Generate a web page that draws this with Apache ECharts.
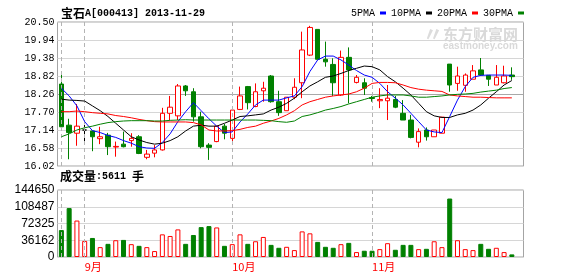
<!DOCTYPE html>
<html><head><meta charset="utf-8">
<script src="https://cdn.jsdelivr.net/npm/echarts@6/dist/echarts.min.js"></script>
<style>html,body{margin:0;padding:0;background:#fff}#c{width:578px;height:276px}</style>
</head><body><div id="c"></div>
<script>
const categories = [
 '2013-08-28','2013-08-29','2013-08-30',
 '2013-09-02','2013-09-03','2013-09-04','2013-09-05','2013-09-06','2013-09-09','2013-09-10','2013-09-11','2013-09-12','2013-09-13',
 '2013-09-16','2013-09-17','2013-09-18','2013-09-23','2013-09-24','2013-09-25','2013-09-26','2013-09-27','2013-09-30',
 '2013-10-08','2013-10-09','2013-10-10','2013-10-11','2013-10-14','2013-10-15','2013-10-16','2013-10-17','2013-10-18',
 '2013-10-21','2013-10-22','2013-10-23','2013-10-24','2013-10-25','2013-10-28','2013-10-29','2013-10-30','2013-10-31',
 '2013-11-01','2013-11-04','2013-11-05','2013-11-06','2013-11-07','2013-11-08','2013-11-11','2013-11-12','2013-11-13','2013-11-14',
 '2013-11-19','2013-11-20','2013-11-21','2013-11-22','2013-11-25','2013-11-26','2013-11-27','2013-11-28','2013-11-29'
];
const opens  = [18.57,17.29,17.04,17.14,17.11,16.87,16.98,16.61,16.70,16.81,16.93,16.29,16.42,16.52,17.66,17.58,18.51,18.33,17.55,16.67,
                16.78,17.26,16.88,17.78,18.49,17.87,18.36,18.82,18.02,17.74,18.16,18.61,19.47,20.27,19.34,19.18,18.23,19.40,18.62,18.61,
                18.15,18.05,18.05,18.09,17.66,17.45,16.76,17.14,16.93,17.04,19.19,18.59,18.53,18.72,19.01,18.84,18.54,18.61,18.85];
const closes = [17.24,17.06,17.26,17.14,16.93,16.93,16.62,16.63,16.62,16.88,16.41,16.39,16.52,17.66,17.85,18.51,18.36,17.55,16.62,16.60,
                17.26,17.04,17.76,18.20,17.99,18.33,18.44,18.02,17.68,18.16,18.47,19.63,20.33,19.34,19.26,18.61,19.40,19.01,18.78,18.44,
                18.12,18.09,18.13,17.85,17.45,16.91,17.09,16.93,17.14,17.54,18.54,18.82,18.85,18.98,18.85,18.72,18.78,18.82,18.80];
const lows   = [17.22,16.23,16.65,16.75,16.48,16.70,16.36,16.31,16.60,16.62,16.39,16.23,16.29,16.50,17.45,17.45,18.20,17.40,16.57,16.21,
                16.76,16.85,16.76,17.76,17.78,17.85,18.02,17.99,17.58,17.74,18.10,18.13,19.44,19.34,19.11,18.20,18.20,17.97,18.59,18.23,
                18.02,17.82,17.45,17.82,17.45,16.88,16.60,16.81,16.93,17.04,18.33,18.36,18.33,18.72,18.82,18.51,18.54,18.59,18.70];
const highs  = [18.90,17.49,17.95,17.30,17.11,17.24,17.05,16.78,17.09,17.04,16.98,16.52,16.67,17.83,18.20,18.57,18.54,18.44,17.71,16.73,
                17.26,17.33,17.85,18.49,18.51,18.59,18.64,18.85,18.36,18.16,18.75,20.20,20.38,20.27,19.89,19.37,19.61,19.71,18.85,18.75,
                18.20,18.44,18.54,18.20,18.07,17.61,17.19,17.22,17.14,17.55,19.19,19.11,18.90,19.16,19.38,18.84,19.16,19.14,19.09];
const volumes = [58100,105600,78700,34700,41100,21300,28400,36200,36900,27700,24100,21300,12800,48900,45400,59600,28400,47500,64500,66700,
                 63800,24100,27700,48900,28400,34000,43300,26200,19900,22000,14900,55300,51100,32600,22000,19900,27700,30500,10600,13500,
                 13500,17000,29800,15600,26200,26200,17000,17700,34000,21300,126200,36200,17000,14900,28400,17700,19900,10600,5611];
const ma5  = [18.44,18.20,17.89,17.40,17.12,17.06,16.97,16.91,16.81,16.73,16.62,16.58,16.57,16.75,17.02,17.40,17.71,17.99,17.74,17.49,
              17.26,17.06,17.08,17.39,17.64,17.92,18.07,18.07,18.07,18.14,18.20,18.49,18.96,19.32,19.44,19.44,19.32,19.16,18.99,18.85,
              18.78,18.59,18.33,18.13,17.92,17.66,17.40,17.14,17.08,17.06,17.56,18.07,18.49,18.78,18.84,18.85,18.85,18.85,18.84];
const ma10 = [18.10,18.07,18.06,18.04,17.89,17.74,17.56,17.35,17.14,16.93,16.83,16.75,16.70,16.73,16.81,16.93,17.11,17.26,17.29,17.26,
              17.26,17.35,17.45,17.56,17.58,17.61,17.64,17.76,17.85,17.97,18.13,18.33,18.51,18.64,18.78,18.82,18.90,18.99,19.06,19.13,
              19.11,19.01,18.80,18.64,18.44,18.23,17.97,17.71,17.58,17.53,17.53,17.61,17.66,17.76,17.92,18.13,18.33,18.54,18.68];
const ma20 = [17.71,17.71,17.73,17.71,17.68,17.66,17.64,17.59,17.56,17.52,17.47,17.43,17.40,17.39,17.39,17.39,17.39,17.37,17.30,17.14,
              17.11,17.11,17.12,17.16,17.22,17.26,17.35,17.42,17.50,17.61,17.74,17.92,18.02,18.09,18.16,18.20,18.23,18.26,18.33,18.44,
              18.59,18.62,18.62,18.61,18.54,18.46,18.41,18.38,18.36,18.34,18.23,18.20,18.18,18.16,18.16,18.15,18.14,18.14,18.14];
const ma30 = [16.93,17.02,17.14,17.21,17.26,17.32,17.37,17.40,17.42,17.43,17.43,17.43,17.42,17.42,17.44,17.45,17.46,17.45,17.45,17.45,
              17.45,17.45,17.45,17.45,17.45,17.45,17.44,17.43,17.40,17.38,17.42,17.56,17.61,17.68,17.76,17.81,17.87,17.95,18.02,18.09,
              18.16,18.20,18.23,18.23,18.23,18.20,18.16,18.16,18.18,18.20,18.23,18.25,18.26,18.28,18.32,18.35,18.38,18.43,18.46];
const maNames = ['5PMA','10PMA','20PMA','30PMA'];
const monthStarts = ['2013-09-02','2013-10-08','2013-11-01'];
const monthNames = ['9月','10月','11月'];
const dividerDates = ['2013-08-28','2013-09-02','2013-10-08','2013-11-01'];
const priceTicks = {min:16.02, max:20.50, step:0.56};
const volTicks = {min:0, max:144650, step:36162.5};

const MONO = '"Liberation Mono","DejaVu Sans Mono",monospace';
const CJK = '"Noto Sans CJK SC",sans-serif';
const UP = '#ff0000', DOWN = '#008000';

const chart = echarts.init(document.getElementById('c'));
const candleData = categories.map((d,i)=>[opens[i],closes[i],lows[i],highs[i]]);
const volData = volumes.map((v,i)=>({value:v,itemStyle: closes[i]>=opens[i]
  ? {color:'#ffffff',borderColor:UP,borderWidth:1}
  : {color:DOWN,borderColor:DOWN,borderWidth:1}}));
const monthIdx = monthStarts.map(d=>categories.indexOf(d));
const dividers = {silent:true,symbol:['none','none'],label:{show:false},
  lineStyle:{color:'#b4b4b4',type:[4,3],width:1},emphasis:{disabled:true},
  data: dividerDates.map(d=>({xAxis:d}))};
const lineSeries = (name,data,color)=>({name,type:'line',data,xAxisIndex:0,yAxisIndex:0,symbol:'none',showSymbol:false,
  silent:true,z:5,lineStyle:{color,width:1},itemStyle:{color}});
const gridLines = Array.from({length:9},(_,i)=> i===4?'#a8a8a8':'#d6d6d6');

chart.setOption({
  animation:false,
  title:[
    {text:'{c|宝石}{m|A[000413] 2013-11-29}',left:61,top:7,padding:0,
     textStyle:{rich:{c:{fontFamily:CJK,fontSize:12,color:'#000'},m:{fontFamily:MONO,fontSize:10,color:'#000'}}}},
    {text:'{c|成交量}{m|:5611 }{c|手}',left:60,top:170,padding:0,
     textStyle:{rich:{c:{fontFamily:CJK,fontSize:12,color:'#000'},m:{fontFamily:MONO,fontSize:10,color:'#000'}}}}
  ],
  legend:{left:351,top:8,padding:0,itemWidth:6,itemHeight:3,itemGap:5,align:'right',icon:'rect',
    textStyle:{fontFamily:MONO,fontSize:10,color:'#000'},data:maNames,selectedMode:false},
  graphic:[
    {type:'text',left:443,top:27,silent:true,style:{text:'东方财富网',font:'bold 15px "Noto Sans CJK SC"',fill:'#d9d9d9'}},
    {type:'text',left:443,top:41,silent:true,style:{text:'eastmoney.com',font:'bold 10px "Liberation Sans"',fill:'#d9d9d9'}},
    {type:'text',left:423,top:24,silent:true,style:{text:'〃',font:'bold 20px "Noto Sans CJK SC"',fill:'#dcdcdc'}}
  ],
  grid:[
    {left:57.5,top:22,width:466,height:144,show:true,borderColor:'#a4a4a4',borderWidth:1},
    {left:57.5,top:190,width:466,height:67,show:true,borderColor:'#a4a4a4',borderWidth:1}
  ],
  xAxis:[
    {type:'category',gridIndex:0,data:categories,max:59,axisLine:{show:false},axisTick:{show:false},axisLabel:{show:false},splitLine:{show:false}},
    {type:'category',gridIndex:1,data:categories,max:59,axisLine:{show:false},axisTick:{show:false},splitLine:{show:false},
     axisLabel:{interval:(i)=>monthIdx.includes(i),formatter:(v,i)=>monthNames[monthIdx.indexOf(i)]||'',
       color:'#ff0000',align:'left',fontFamily:CJK,fontSize:11,margin:4}}
  ],
  yAxis:[
    {type:'value',gridIndex:0,min:priceTicks.min,max:priceTicks.max,interval:priceTicks.step,
     axisLine:{show:false},axisTick:{show:false},
     axisLabel:{formatter:v=>v.toFixed(2),fontFamily:MONO,fontSize:10,color:'#000',margin:3},
     splitLine:{show:true,lineStyle:{color:gridLines,width:1}}},
    {type:'value',gridIndex:1,min:volTicks.min,max:volTicks.max,interval:volTicks.step,
     axisLine:{show:false},axisTick:{show:false},
     axisLabel:{formatter:v=>String(Math.floor(v)),fontFamily:'"Liberation Sans",sans-serif',fontSize:12,color:'#000',margin:3},
     splitLine:{show:true,lineStyle:{color:'#d6d6d6',width:1}}}
  ],
  series:[
    {type:'candlestick',xAxisIndex:0,yAxisIndex:0,data:candleData,barWidth:5,silent:true,z:3,
     itemStyle:{color:'#ffffff',color0:DOWN,borderColor:UP,borderColor0:DOWN,borderColorDoji:'#000000',borderWidth:1},
     markLine:dividers},
    lineSeries(maNames[0],ma5,'#0000ff'),
    lineSeries(maNames[1],ma10,'#000000'),
    lineSeries(maNames[2],ma20,'#ff0000'),
    lineSeries(maNames[3],ma30,'#008000'),
    {type:'bar',xAxisIndex:1,yAxisIndex:1,data:volData,barWidth:5,silent:true,markLine:dividers}
  ]
});
</script></body></html>
